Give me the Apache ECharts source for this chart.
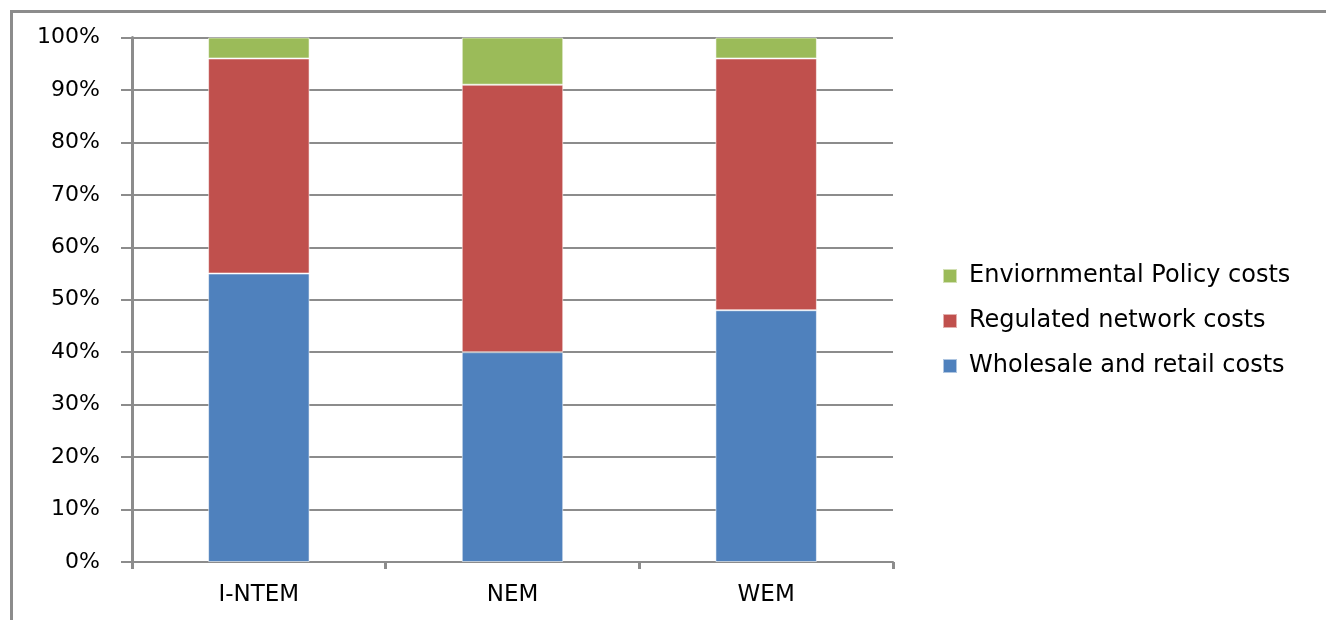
<!DOCTYPE html>
<html>
<head>
<meta charset="utf-8">
<script src="https://cdn.jsdelivr.net/npm/echarts@6/dist/echarts.min.js"></script>
<style>
  html, body { margin: 0; padding: 0; background: #fff; }
  #chart { width: 1326px; height: 620px; }
</style>
</head>
<body>
<div id="chart"></div>
<script>
// Share of cost components per market model (percent)
const categories = ['I-NTEM', 'NEM', 'WEM'];
const wholesaleRetail = [55, 40, 48];
const regulatedNetwork = [41, 51, 48];
const environmentalPolicy = [4, 9, 4];
const yTicks = [0, 10, 20, 30, 40, 50, 60, 70, 80, 90, 100];

const FONT = 'DejaVu Sans';
const chart = echarts.init(document.getElementById('chart'), null, { renderer: 'canvas' });

const barStyle = (color) => ({ color: color, borderColor: 'rgba(255,255,255,0.55)', borderWidth: 1 });

chart.setOption({
  backgroundColor: '#ffffff',
  animation: false,
  textStyle: { fontFamily: FONT },
  graphic: [
    { type: 'line', shape: { x1: 11.5, y1: 11.5, x2: 11.5, y2: 620 }, style: { stroke: '#8c8c8c', lineWidth: 3 } },
    { type: 'line', shape: { x1: 10, y1: 11.5, x2: 1326, y2: 11.5 }, style: { stroke: '#8c8c8c', lineWidth: 3 } }
  ],
  grid: { left: 132, right: 433, top: 37.5, bottom: 58, containLabel: false },
  legend: {
    orient: 'vertical',
    left: 937,
    top: 257,
    itemWidth: 14,
    itemHeight: 14,
    itemGap: 17,
    icon: 'rect',
    data: ['Enviornmental Policy costs', 'Regulated network costs', 'Wholesale and retail costs'],
    textStyle: { fontFamily: FONT, fontSize: 24, color: '#000', lineHeight: 28, padding: [0, 0, 0, 7] }
  },
  xAxis: {
    type: 'category',
    data: categories,
    boundaryGap: true,
    axisLine: { show: true, lineStyle: { color: '#8c8c8c', width: 2 } },
    axisTick: { show: true, length: 7, lineStyle: { color: '#8c8c8c', width: 3 } },
    axisLabel: { fontFamily: FONT, fontSize: 23, color: '#000', margin: 22 }
  },
  yAxis: {
    type: 'value',
    min: 0,
    max: 100,
    interval: 10,
    axisLine: { show: true, lineStyle: { color: '#8c8c8c', width: 3 } },
    axisTick: { show: true, length: 11, lineStyle: { color: '#8c8c8c', width: 2 } },
    splitLine: { show: true, lineStyle: { color: '#8c8c8c', width: 2 } },
    axisLabel: {
      fontFamily: FONT, fontSize: 22, color: '#000', margin: 32,
      formatter: (v) => (yTicks.includes(v) ? v + '%' : '')
    }
  },
  series: [
    { name: 'Wholesale and retail costs', type: 'bar', stack: 'total', barWidth: '40%', data: wholesaleRetail, itemStyle: barStyle('#4F81BD') },
    { name: 'Regulated network costs', type: 'bar', stack: 'total', barWidth: '40%', data: regulatedNetwork, itemStyle: barStyle('#C0504D') },
    { name: 'Enviornmental Policy costs', type: 'bar', stack: 'total', barWidth: '40%', data: environmentalPolicy, itemStyle: barStyle('#9BBB59') }
  ]
});
</script>
</body>
</html>
